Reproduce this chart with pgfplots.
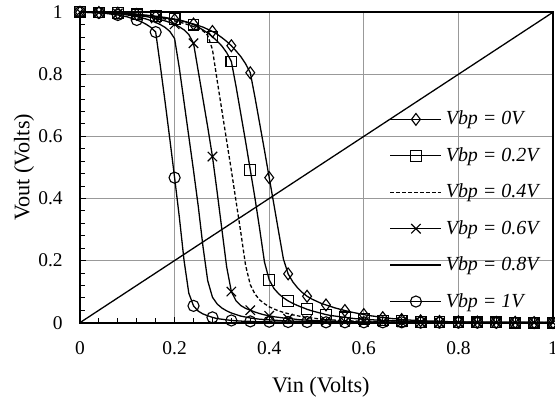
\documentclass[border=0pt]{standalone}
\usepackage{pgfplots}
\pgfplotsset{compat=1.18}
\usepackage{pgfplotstable}
\usepackage{fontspec}
\setmainfont{Liberation Serif}

\pgfplotstableread{
x d s q c e o
0.00 1.000 1.000 1.000 1.000 1.000 1.000
0.01 1.000 1.000 1.000 1.000 1.000 1.000
0.02 1.000 1.000 1.000 1.000 0.999 0.999
0.03 0.999 0.999 0.999 0.999 0.999 0.999
0.04 0.999 0.999 0.999 0.999 0.999 0.998
0.05 0.999 0.998 0.998 0.998 0.998 0.997
0.06 0.998 0.998 0.998 0.997 0.997 0.995
0.07 0.998 0.997 0.997 0.997 0.996 0.993
0.08 0.997 0.997 0.997 0.996 0.995 0.991
0.09 0.996 0.996 0.996 0.995 0.994 0.988
0.10 0.995 0.995 0.995 0.994 0.991 0.985
0.11 0.994 0.994 0.994 0.992 0.989 0.980
0.12 0.993 0.993 0.992 0.990 0.986 0.975
0.13 0.991 0.992 0.990 0.988 0.982 0.969
0.14 0.990 0.990 0.988 0.986 0.978 0.961
0.15 0.988 0.989 0.986 0.983 0.973 0.951
0.16 0.986 0.987 0.984 0.980 0.967 0.936
0.17 0.984 0.985 0.981 0.976 0.960 0.825
0.18 0.981 0.983 0.978 0.972 0.951 0.710
0.19 0.979 0.980 0.975 0.967 0.938 0.590
0.20 0.976 0.978 0.972 0.961 0.915 0.467
0.21 0.973 0.975 0.968 0.953 0.820 0.340
0.22 0.970 0.971 0.964 0.943 0.710 0.200
0.23 0.966 0.966 0.959 0.928 0.600 0.095
0.24 0.962 0.960 0.954 0.900 0.490 0.054
0.25 0.957 0.952 0.948 0.810 0.375 0.037
0.26 0.952 0.943 0.940 0.720 0.245 0.028
0.27 0.945 0.933 0.925 0.630 0.135 0.022
0.28 0.938 0.921 0.880 0.535 0.082 0.017
0.29 0.929 0.907 0.780 0.420 0.060 0.013
0.30 0.918 0.891 0.683 0.300 0.047 0.011
0.31 0.906 0.870 0.586 0.180 0.038 0.009
0.32 0.892 0.841 0.490 0.100 0.031 0.007
0.33 0.875 0.760 0.390 0.070 0.026 0.006
0.34 0.857 0.672 0.290 0.055 0.021 0.005
0.35 0.834 0.584 0.185 0.046 0.018 0.004
0.36 0.805 0.492 0.122 0.040 0.015 0.004
0.37 0.725 0.400 0.092 0.034 0.013 0.003
0.38 0.640 0.300 0.073 0.029 0.011 0.003
0.39 0.555 0.195 0.061 0.025 0.010 0.003
0.40 0.467 0.138 0.051 0.022 0.009 0.003
0.41 0.380 0.110 0.044 0.019 0.008 0.002
0.42 0.292 0.093 0.038 0.017 0.007 0.002
0.43 0.205 0.080 0.033 0.015 0.006 0.002
0.44 0.157 0.070 0.029 0.013 0.005 0.002
0.45 0.131 0.062 0.025 0.012 0.005 0.002
0.46 0.112 0.055 0.022 0.010 0.004 0.002
0.47 0.097 0.049 0.019 0.009 0.004 0.002
0.48 0.085 0.043 0.017 0.008 0.003 0.002
0.49 0.076 0.038 0.015 0.007 0.003 0.002
0.50 0.069 0.034 0.013 0.006 0.003 0.002
0.51 0.062 0.030 0.012 0.006 0.003 0.001
0.52 0.057 0.026 0.010 0.005 0.002 0.001
0.53 0.052 0.023 0.009 0.005 0.002 0.001
0.54 0.047 0.021 0.008 0.004 0.002 0.001
0.55 0.043 0.019 0.007 0.004 0.002 0.001
0.56 0.039 0.017 0.006 0.003 0.002 0.001
0.57 0.035 0.015 0.006 0.003 0.002 0.001
0.58 0.032 0.013 0.005 0.003 0.001 0.001
0.59 0.029 0.012 0.005 0.002 0.001 0.001
0.60 0.026 0.011 0.004 0.002 0.001 0.001
0.61 0.023 0.010 0.004 0.002 0.001 0.001
0.62 0.021 0.009 0.004 0.002 0.001 0.001
0.63 0.019 0.008 0.003 0.002 0.001 0.001
0.64 0.016 0.007 0.003 0.002 0.001 0.001
0.65 0.015 0.007 0.003 0.001 0.001 0.001
0.66 0.013 0.006 0.002 0.001 0.001 0.001
0.67 0.012 0.006 0.002 0.001 0.001 0.001
0.68 0.010 0.005 0.002 0.001 0.001 0.001
0.69 0.009 0.005 0.002 0.001 0.001 0.001
0.70 0.008 0.004 0.002 0.001 0.001 0.001
0.71 0.007 0.004 0.001 0.001 0.000 0.000
0.72 0.006 0.003 0.001 0.001 0.000 0.000
0.73 0.006 0.003 0.001 0.001 0.000 0.000
0.74 0.005 0.003 0.001 0.001 0.000 0.000
0.75 0.005 0.002 0.001 0.000 0.000 0.000
0.76 0.004 0.002 0.001 0.000 0.000 0.000
0.77 0.004 0.002 0.001 0.000 0.000 0.000
0.78 0.003 0.002 0.001 0.000 0.000 0.000
0.79 0.003 0.002 0.000 0.000 0.000 0.000
0.80 0.003 0.001 0.000 0.000 0.000 0.000
0.81 0.002 0.001 0.000 0.000 0.000 0.000
0.82 0.002 0.001 0.000 0.000 0.000 0.000
0.83 0.002 0.001 0.000 0.000 0.000 0.000
0.84 0.002 0.001 0.000 0.000 0.000 0.000
0.85 0.001 0.001 0.000 0.000 0.000 0.000
0.86 0.001 0.001 0.000 0.000 0.000 0.000
0.87 0.001 0.001 0.000 0.000 0.000 0.000
0.88 0.001 0.001 0.000 0.000 0.000 0.000
0.89 0.001 0.000 0.000 0.000 0.000 0.000
0.90 0.001 0.000 0.000 0.000 0.000 0.000
0.91 0.001 0.000 0.000 0.000 0.000 0.000
0.92 0.001 0.000 0.000 0.000 0.000 0.000
0.93 0.001 0.000 0.000 0.000 0.000 0.000
0.94 0.001 0.000 0.000 0.000 0.000 0.000
0.95 0.001 0.000 0.000 0.000 0.000 0.000
0.96 0.000 0.000 0.000 0.000 0.000 0.000
0.97 0.000 0.000 0.000 0.000 0.000 0.000
0.98 0.000 0.000 0.000 0.000 0.000 0.000
0.99 0.000 0.000 0.000 0.000 0.000 0.000
1.00 0.000 0.000 0.000 0.000 0.000 0.000
}\vtc

\begin{document}
\begin{tikzpicture}
\begin{axis}[
  at={(0pt,0pt)}, anchor=south west,
  scale only axis, width=255.7pt, height=167.8pt,
  xmin=0, xmax=1, ymin=0, ymax=1,
  xtick={0,0.2,0.4,0.6,0.8,1}, ytick={0,0.2,0.4,0.6,0.8,1},
  minor x tick num=4, minor y tick num=4,
  tick pos=left, tick align=inside,
  major tick length=3pt, minor tick length=2.7pt,
  every tick/.style={black, line width=0.5pt},
  grid=major, major grid style={draw=black!40, line width=0.5pt},
  axis line style={line width=1.1pt},
  /pgf/number format/assume math mode=true,
  ticklabel style={font=\fontsize{10.5}{12}\selectfont},
  xticklabel style={yshift=-6.8pt},
  yticklabel style={xshift=-5.85pt},
  xlabel={Vin (Volts)}, ylabel={Vout (Volts)},
  label style={font=\fontsize{12}{14}\selectfont},
  xlabel style={at={(axis description cs:0.509,-0.2253)}, anchor=base},
  ylabel style={at={(axis description cs:-0.1068,0.5)}, anchor=base},
  legend style={draw=none, fill=none, inner sep=0pt,
    at={(axis description cs:0.654,0.703)}, anchor=north west,
    font=\fontsize{10.8}{12}\selectfont\itshape,
    row sep=3.9pt,
    nodes={inner xsep=2pt, inner ysep=3.4pt}},
  legend cell align=left,
  legend image code/.code={\draw[mark repeat=2,mark phase=2,#1] plot coordinates {(0pt,0pt) (13.8pt,0pt) (27.6pt,0pt)};},
  every axis plot/.append style={black, line width=0.7pt, mark repeat=4,
    mark options={solid, line width=0.6pt, fill=none}},
]
\addplot[mark=diamond, mark size=3.2pt] table[x=x, y=d] {\vtc};
\addlegendentry{Vbp = 0V}
\addplot[mark=square, mark size=2.9pt] table[x=x, y=s] {\vtc};
\addlegendentry{Vbp = 0.2V}
\addplot[no marks, dash pattern=on 2pt off 1.2pt] table[x=x, y=q] {\vtc};
\addlegendentry{Vbp = 0.4V}
\addplot[mark=x, mark size=3.6pt] table[x=x, y=c] {\vtc};
\addlegendentry{Vbp = 0.6V}
\addplot[no marks] table[x=x, y=e] {\vtc};
\addlegendentry{Vbp = 0.8V}
\addplot[mark=o, mark size=3pt] table[x=x, y=o] {\vtc};
\addlegendentry{Vbp = 1V}
\addplot[no marks, forget plot] coordinates {(0,0) (1,1)};
\end{axis}
\pgfresetboundingbox
\path[use as bounding box] (-43.24pt,-41.8pt) rectangle (256.76pt,174.4pt);
\end{tikzpicture}
\end{document}
